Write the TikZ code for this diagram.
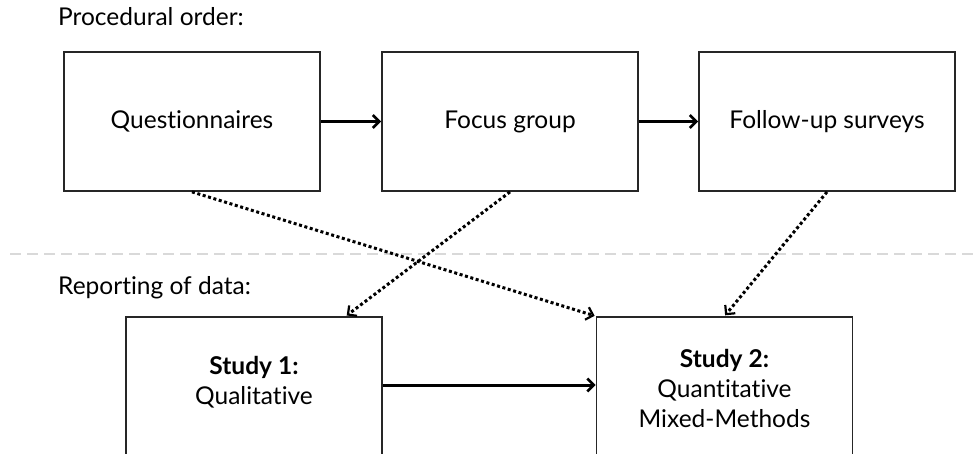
\documentclass[tikz,border=0pt]{standalone}
\usepackage{fontspec}
\setmainfont{Lato}[Ligatures=NoCommon]
\usetikzlibrary{arrows.meta}
\begin{document}
\begin{tikzpicture}[x=1pt,y=-1pt,
  box/.style={draw=black!85, line width=1.8pt, minimum width=256pt, inner sep=0pt},
  txt/.style={font=\fontsize{24.5}{30}\selectfont, align=center, inner sep=0pt},
  head/.style={font=\fontsize{24.5}{30}\selectfont, anchor=base west, inner sep=0pt},
  flow/.style={line width=3pt, -{Straight Barb[length=6.5pt,width=13pt,line width=2.6pt]}},
  link/.style={line width=3pt, dash pattern=on 3pt off 2.6pt,
    -{Straight Barb[length=6.5pt,width=13pt,line width=2.2pt]}, shorten >=1pt},
  divider/.style={draw=black!15, line width=1.5pt, dash pattern=on 11pt off 6pt}]
\useasboundingbox (0,0) rectangle (973,454);
\clip (0,0) rectangle (973,454);

% section headings
\node[head] (h1) at (58,26) {Procedural order:};
\node[head] (h2) at (58,294) {Reporting of data:};

% divider between the two stages
\coordinate (dl) at (10,254);
\coordinate (dr) at (973,254);
\draw[divider] (dl) -- (dr);

% procedural order
\node[box, minimum height=139pt] (q) at (192,121.5) {};
\node[box, minimum height=139pt] (f) at (510,121.5) {};
\node[box, minimum height=139pt] (u) at (827,121.5) {};
\node[txt] (qt) at (q) {Questionnaires};
\node[txt] (ft) at (f) {Focus group};
\node[txt] (ut) at (u) {Follow-up surveys};

% reporting of data (boxes run past the lower edge)
\node[box, minimum height=200pt] (s1) at (254,417) {};
\node[box, minimum height=200pt] (s2) at (724.5,417) {};
\node[txt] (s1t) at (254,382) {\textbf{Study 1:}\\Qualitative};
\node[txt] (s2t) at (724.5,388) {\textbf{Study 2:}\\Quantitative\\Mixed-Methods};

% sequence arrows
\draw[flow] (q.east) -- (f.west);
\draw[flow] (f.east) -- (u.west);
\draw[flow] ([yshift=32pt]s1.east) -- ([yshift=32pt]s2.west);

% which data feed which study
\draw[link] (q.south) -- (s2.north west);
\draw[link] (f.south) -- ([xshift=-37pt]s1.north east);
\draw[link] (u.south) -- (s2.north);
\end{tikzpicture}
\end{document}
